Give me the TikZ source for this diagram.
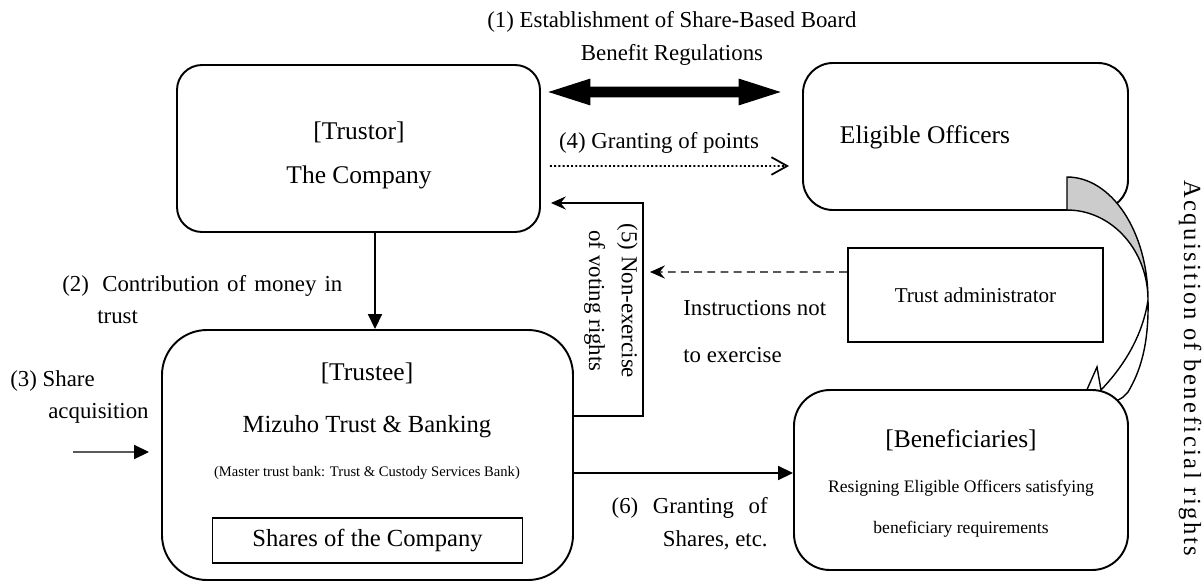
\documentclass[tikz,border=0pt]{standalone}
\usepackage{fontspec}
\setmainfont{Liberation Serif}
\newfontfamily\widefont[LetterSpace=10]{Liberation Serif}
\usetikzlibrary{arrows.meta}

\tikzset{
	roundbox/.style={draw, line width=1.1pt, fill=white},
	plainbox/.style={draw, line width=1.1pt, fill=white},
	head/.style={font=\fontsize{14.5}{17}\selectfont},
	lbl/.style={font=\fontsize{13}{18.7}\selectfont, inner sep=0pt},
	note/.style={font=\fontsize{10}{23.2}\selectfont, align=center},
	tinytxt/.style={font=\fontsize{8.3}{10}\selectfont},
	arr/.style={line width=0.8pt, -{Triangle[length=8.5pt,width=8pt]}},
	barbarr/.style={line width=0.8pt, -{Stealth[length=8.5pt,width=7.5pt,inset=3pt]}},
	bigarr/.style={line width=6.2pt, {Triangle[length=27pt,width=13pt]}-{Triangle[length=27pt,width=13pt]}},
	dotarr/.style={line width=1pt, dash pattern=on 1.1pt off 1.3pt, -{Straight Barb[length=9pt,width=10pt]}},
	dasharr/.style={line width=0.8pt, dash pattern=on 4.5pt off 3pt, -{Stealth[length=8.5pt,width=7.5pt,inset=3pt]}}
}

\begin{document}
\begin{tikzpicture}
		%%%%% START %%%%%
		\useasboundingbox (0,0) rectangle (24.04,-11.66);
		
		\node[roundbox, rounded corners=0.5cm, minimum width=7.26cm, minimum height=3.34cm] (trustor) at (7.17,-2.97) {};
		\node[head] (trustortitle) at (7.18,-2.64) {[Trustor]};
		\node[head] (trustorname) at (7.18,-3.54) {The Company};
		
		\node[roundbox, rounded corners=0.6cm, minimum width=6.5cm, minimum height=2.94cm] (officers) at (19.31,-2.73) {};
		\node[head] (officerstxt) at (18.5,-2.74) {Eligible Officers};
		
		% curved block arrow, back then front
		\draw[line width=0.8pt, fill=gray!40] (21.34,-3.54) arc[start angle=90, end angle=0, x radius=1.62cm, y radius=2.46cm] arc[start angle=0, end angle=90, x radius=1.62cm, y radius=1.8cm] -- cycle;
		\draw[line width=0.8pt, fill=white] (22.96,-6.0) .. controls (22.98,-6.9) and (22.8,-7.44) .. (22.56,-7.84) -- (22.45,-7.95) -- (21.4,-8.56) -- (21.94,-7.34) -- (22.02,-7.8) .. controls (22.4,-7.4) and (22.84,-6.8) .. (22.96,-6.0) -- cycle;
		
		\node[plainbox, minimum width=5.1cm, minimum height=1.88cm, font=\fontsize{12}{14}\selectfont] (admin) at (19.51,-5.9) {Trust administrator};
		
		\node[roundbox, rounded corners=0.9cm, minimum width=8.22cm, minimum height=5cm] (trustee) at (7.35,-9.1) {};
		\node[head] (trusteetitle) at (7.34,-7.46) {[Trustee]};
		\node[head, font=\fontsize{14}{17}\selectfont] (bank) at (7.34,-8.54) {Mizuho Trust \& Banking};
		\node[tinytxt] (master) at (7.34,-9.46) {(Master trust bank: Trust \& Custody Services Bank)};
		\node[plainbox, font=\fontsize{14}{17}\selectfont, minimum width=6.2cm, minimum height=0.9cm] (shares) at (7.35,-10.81) {Shares of the Company};
		
		\node[roundbox, rounded corners=0.72cm, minimum width=6.68cm, minimum height=3.6cm] (benef) at (19.22,-9.6) {};
		\node[head] (beneftitle) at (19.22,-8.8) {[Beneficiaries]};
		\node[note] (beneftext) at (19.22,-10.17) {Resigning Eligible Officers satisfying\\beneficiary requirements};
		
		% (1)
		\draw[bigarr, shorten <=0.04cm, shorten >=0.32cm] ([yshift=1.13cm]trustor.east) -- ([yshift=0.89cm]officers.west);
		\node[lbl, align=center] (rules) at (13.44,-0.76) {(1) Establishment of Share-Based Board\\Benefit Regulations};
		
		% (4)
		\draw[dotarr, shorten <=0.18cm, shorten >=0.26cm] ([yshift=-0.35cm]trustor.east) -- ([yshift=-0.59cm]officers.west);
		\node[lbl] (points) at (13.18,-2.86) {(4) Granting of points};
		
		% (2)
		\draw[arr] ([xshift=0.33cm]trustor.south) -- ([xshift=0.15cm]trustee.north);
		\node[lbl, align=left, anchor=west] (money) at (1.24,-5.99) {\makebox[5.6cm][s]{(2)\hspace{3pt} Contribution of money in}\\\hspace*{0.7cm}trust};
		
		% (3)
		\coordinate (sharein) at (1.46,-9.04);
		\draw[arr, shorten >=0.24cm] (sharein) -- ([yshift=0.06cm]trustee.west);
		\node[lbl, align=left, anchor=west] (acq) at (0.2,-7.94) {(3) Share\\\hspace*{0.76cm}acquisition};
		
		% (5)
		\draw[barbarr, shorten >=0.2cm] ([yshift=0.78cm]trustee.east) -- ++(1.38,0) |- ([yshift=-1.09cm]trustor.east);
		\node[lbl, align=center, rotate=-90] (voting) at (12.22,-6.02) {(5) Non-exercise\\of voting rights};
		
		\coordinate (vote) at (12.84,-5.44);
		\draw[dasharr, shorten >=0.16cm] ([yshift=0.46cm]admin.west) -- (vote);
		\node[lbl, align=left, anchor=west, font=\fontsize{13}{26.6}\selectfont] (instr) at (13.66,-6.63) {Instructions not\\to exercise};
		
		% (6)
		\draw[arr] ([yshift=-0.36cm]trustee.east) -- ([yshift=0.14cm]benef.west);
		\node[lbl, align=right, anchor=east] (grant) at (15.36,-10.47) {\makebox[3.12cm][s]{(6) Granting of}\\Shares, etc.};
		
		\node[font=\fontsize{14}{17}\selectfont\widefont, rotate=-90, inner sep=0pt] (rights) at (23.8,-7.36) {Acquisition of beneficial rights};
		
		%%%%% END %%%%%
	\end{tikzpicture}
\end{document}
